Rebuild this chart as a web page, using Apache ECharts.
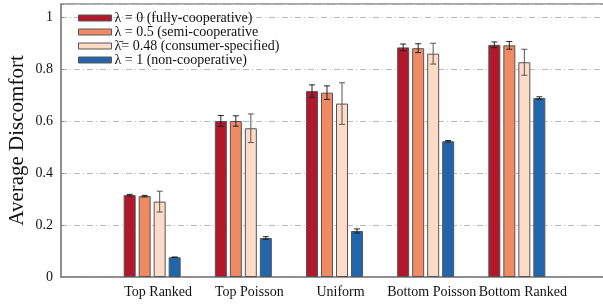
<!DOCTYPE html>
<html>
<head>
<meta charset="utf-8">
<script src="https://cdn.jsdelivr.net/npm/echarts@6/dist/echarts.min.js"></script>
<style>
  html, body { margin: 0; padding: 0; background: #fff; }
  #chart { width: 603px; height: 304px; }
</style>
</head>
<body>
<div id="chart"></div>
<script>
// 类别（两端留空类别，用来撑出左右空白）
const categories = ['Top Ranked', 'Top Poisson', 'Uniform', 'Bottom Poisson', 'Bottom Ranked']
const seriesNames = [
  'λ = 0 (fully-cooperative)',
  'λ = 0.5 (semi-cooperative',
  'λ̄= 0.48 (consumer-specified)',
  'λ = 1 (non-cooperative)'
]
const colors = ['#b2182b', '#ef8a62', '#fddbc7', '#2166ac']

// 平均值
const fullyMean = [0.315, 0.600, 0.715, 0.883, 0.893]
const semiMean = [0.311, 0.600, 0.709, 0.880, 0.891]
const consumerMean = [0.290, 0.572, 0.667, 0.859, 0.826]
const nonMean = [0.076, 0.150, 0.177, 0.522, 0.688]

// 误差
const fullyErr = [0.003, 0.021, 0.024, 0.013, 0.011]
const semiErr = [0.003, 0.020, 0.026, 0.017, 0.015]
const consumerErr = [0.040, 0.055, 0.080, 0.040, 0.050]
const nonErr = [0.001, 0.005, 0.008, 0.003, 0.005]

const yTicks = [0, 0.2, 0.4, 0.6, 0.8, 1]

const means = [fullyMean, semiMean, consumerMean, nonMean]
const errs = [fullyErr, semiErr, consumerErr, nonErr]

const xData = [''].concat(categories, [''])
const font = 'Liberation Serif'

const barWidth = 12
const barStep = 15

let series = []
means.forEach((m, i) => {
  series.push({
    name: seriesNames[i],
    type: 'bar',
    barWidth: barWidth,
    barGap: '25%',
    itemStyle: { color: colors[i], borderColor: '#555', borderWidth: 1 },
    data: [null].concat(m, [null])
  })
})

// 误差线
means.forEach((m, i) => {
  let data = m.map((v, k) => [k + 1, v - errs[i][k], v + errs[i][k]])
  series.push({
    type: 'custom',
    z: 10,
    silent: true,
    renderItem (params, api) {
      const lo = api.coord([api.value(0), api.value(1)])
      const hi = api.coord([api.value(0), api.value(2)])
      const x = lo[0] + (i - 1.5) * barStep
      const cap = 3
      const style = { stroke: i === 2 ? '#555' : '#222', lineWidth: 1 }
      return {
        type: 'group',
        children: [
          { type: 'line', shape: { x1: x, y1: lo[1], x2: x, y2: hi[1] }, style },
          { type: 'line', shape: { x1: x - cap, y1: lo[1], x2: x + cap, y2: lo[1] }, style },
          { type: 'line', shape: { x1: x - cap, y1: hi[1], x2: x + cap, y2: hi[1] }, style }
        ]
      }
    },
    encode: { x: 0, y: [1, 2] },
    data: data
  })
})

let myChart = echarts.init(document.getElementById('chart'))
let option = {
  animation: false,
  grid: {
    left: 61, top: 4, right: -5, bottom: 27,
    outerBoundsMode: 'none',
    show: true, borderColor: '#888', borderWidth: 1.5
  },
  legend: {
    orient: 'vertical',
    left: 73,
    top: 6,
    itemWidth: 33,
    itemHeight: 6,
    itemGap: 0,
    icon: 'rect',
    itemStyle: { borderColor: '#555', borderWidth: 1 },
    textStyle: { fontFamily: font, fontSize: 14, color: '#111', lineHeight: 14, padding: [0, 0, 0, -2] },
    data: seriesNames
  },
  xAxis: {
    type: 'category',
    data: xData,
    boundaryGap: false,
    axisLine: { lineStyle: { color: '#888', width: 1.5 } },
    axisTick: { show: false },
    axisLabel: { interval: 0, fontFamily: font, fontSize: 14, color: '#111', margin: 8, padding: [0, 0, 0, 12] },
    splitLine: { show: false }
  },
  yAxis: {
    type: 'value',
    min: 0,
    max: 1.05,
    interval: 0.2,
    name: 'Average Discomfort',
    nameLocation: 'middle',
    nameGap: 33,
    nameMoveOverlap: false,
    nameTextStyle: { fontFamily: font, fontSize: 21, color: '#111' },
    axisLine: { show: true, lineStyle: { color: '#888', width: 1.5 } },
    axisTick: { show: true, inside: true, length: 3, lineStyle: { color: '#888' } },
    axisLabel: {
      fontFamily: font,
      fontSize: 14,
      color: '#111',
      margin: 8,
      formatter: v => {
        let t = yTicks.find(y => Math.abs(y - v) < 1e-6)
        return t === undefined ? '' : String(t)
      }
    },
    splitLine: { lineStyle: { color: '#bbb', type: [6, 3, 1, 3] } }
  },
  series: series
}
myChart.setOption(option)
</script>
</body>
</html>
